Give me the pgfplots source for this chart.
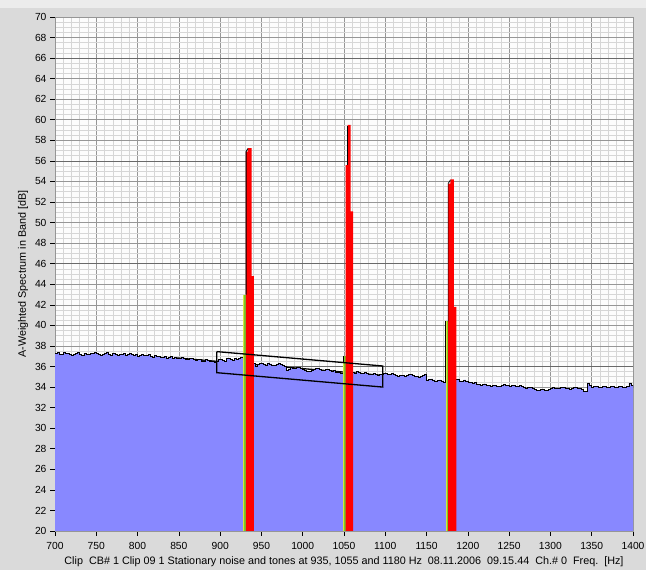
\documentclass[border=0pt]{standalone}
\usepackage{pgfplots}
\pgfplotsset{compat=1.18}
\usepackage{fontspec}
\setmainfont{Liberation Sans}
\definecolor{bggray}{RGB}{218,218,218}
\definecolor{toplight}{RGB}{236,236,236}
\definecolor{plotbg}{RGB}{252,252,252}
\definecolor{mingray}{RGB}{214,214,214}
\definecolor{majgray}{RGB}{150,150,150}
\definecolor{dkgray}{RGB}{105,105,105}
\definecolor{noiseblue}{RGB}{136,136,255}
\definecolor{tonered}{RGB}{255,0,0}
\definecolor{tonegreen}{RGB}{120,200,40}
\definecolor{toneyellow}{RGB}{215,230,60}
\pgfplotstableread{
f L
700 37.30
702.5 37.40
705 37.20
707.5 37.15
710 37.35
712.5 37.30
715 37.25
717.5 37.15
720 37.10
722.5 37.20
725 37.25
727.5 37.35
730 37.20
732.5 37.10
735 37.30
737.5 37.20
740 37.15
742.5 37.30
745 37.25
747.5 37.35
750 37.30
752.5 37.20
755 37.10
757.5 37.20
760 37.25
762.5 37.35
765 37.15
767.5 37.05
770 37.25
772.5 37.20
775 37.05
777.5 37.15
780 37.20
782.5 37.30
785 37.10
787.5 37.20
790 37.25
792.5 37.15
795 37.10
797.5 37.20
800 37.00
802.5 37.10
805 37.15
807.5 37.05
810 37.05
812.5 37.15
815 36.95
817.5 36.85
820 37.10
822.5 37.00
825 37.00
827.5 36.90
830 36.85
832.5 36.95
835 36.80
837.5 36.90
840 36.95
842.5 36.80
845 36.85
847.5 36.75
850 36.75
852.5 36.85
855 36.80
857.5 36.70
860 36.70
862.5 36.80
865 36.75
867.5 36.65
870 36.60
872.5 36.70
875 36.65
877.5 36.55
880 36.55
882.5 36.65
885 36.60
887.5 36.50
890 36.50
892.5 36.45
895 36.55
897.5 36.65
900 36.70
902.5 36.60
905 36.55
907.5 36.80
910 36.75
912.5 36.65
915 36.60
917.5 36.75
920 36.70
922.5 36.80
925 36.85
927.5 37.05
930 36.90
932.5 36.80
935 36.60
937.5 36.40
940 36.30
942.5 36.05
945 36.20
947.5 36.30
950 36.30
952.5 36.20
955 36.15
957.5 36.35
960 36.25
962.5 36.15
965 36.10
967.5 36.20
970 36.30
972.5 36.20
975 36.15
977.5 36.00
980 35.65
982.5 35.75
985 35.90
987.5 35.85
990 35.80
992.5 35.90
995 35.95
997.5 35.80
1000 35.70
1002.5 35.60
1005 35.50
1007.5 35.55
1010 35.65
1012.5 35.75
1015 35.80
1017.5 35.85
1020 35.70
1022.5 35.65
1025 35.60
1027.5 35.70
1030 35.75
1032.5 35.65
1035 35.55
1037.5 35.60
1040 35.45
1042.5 35.40
1045 35.35
1047.5 35.30
1050 35.40
1052.5 35.45
1055 35.45
1057.5 35.35
1060 35.40
1062.5 35.35
1065 35.50
1067.5 35.40
1070 35.30
1072.5 35.35
1075 35.45
1077.5 35.30
1080 35.20
1082.5 35.25
1085 35.35
1087.5 35.20
1090 35.10
1092.5 35.20
1095 35.25
1097.5 35.35
1100 35.30
1102.5 35.25
1105 35.20
1107.5 35.30
1110 35.25
1112.5 35.15
1115 35.05
1117.5 35.10
1120 35.15
1122.5 35.05
1125 35.10
1127.5 35.20
1130 35.20
1132.5 35.10
1135 35.00
1137.5 35.05
1140 34.95
1142.5 35.05
1145 35.10
1147.5 35.20
1150 34.70
1152.5 34.75
1155 34.80
1157.5 34.70
1160 34.60
1162.5 34.65
1165 34.70
1167.5 34.60
1170 34.50
1172.5 34.55
1175 34.60
1177.5 34.65
1180 34.70
1182.5 34.75
1185 34.75
1187.5 34.80
1190 34.60
1192.5 34.55
1195 34.70
1197.5 34.60
1200 34.50
1202.5 34.45
1205 34.40
1207.5 34.45
1210 34.30
1212.5 34.25
1215 34.20
1217.5 34.25
1220 34.30
1222.5 34.20
1225 34.15
1227.5 34.10
1230 34.20
1232.5 34.15
1235 34.05
1237.5 34.10
1240 34.15
1242.5 34.25
1245 34.20
1247.5 34.15
1250 34.10
1252.5 34.20
1255 34.20
1257.5 34.10
1260 34.05
1262.5 34.15
1265 34.10
1267.5 34.00
1270 33.90
1272.5 34.00
1275 33.95
1277.5 33.85
1280 33.75
1282.5 33.70
1285 33.70
1287.5 33.80
1290 33.75
1292.5 33.65
1295 33.70
1297.5 33.80
1300 33.85
1302.5 33.95
1305 33.90
1307.5 33.85
1310 33.85
1312.5 33.95
1315 33.95
1317.5 33.90
1320 33.90
1322.5 33.80
1325 33.85
1327.5 33.95
1330 33.95
1332.5 33.85
1335 33.90
1337.5 33.80
1340 33.60
1342.5 33.55
1345 34.40
1347.5 34.20
1350 33.95
1352.5 34.05
1355 34.05
1357.5 33.95
1360 34.00
1362.5 34.10
1365 34.10
1367.5 34.00
1370 33.95
1372.5 34.05
1375 34.05
1377.5 33.95
1380 34.00
1382.5 34.10
1385 34.10
1387.5 34.00
1390 33.95
1392.5 34.05
1395 34.40
1397.5 34.20
1400 33.90
}\noise
\begin{document}
\begin{tikzpicture}[x=1pt,y=1pt]
\fill[bggray] (0,0) rectangle (646,570);
\fill[toplight] (0,562) rectangle (646,570);
\useasboundingbox (0,0) rectangle (646,570);
\begin{axis}[
  at={(55pt,39pt)}, anchor=south west,
  scale only axis, width=578pt, height=514pt,
  xmin=700, xmax=1400, ymin=20, ymax=70,
  xtick={700,750,...,1400}, ytick={20,22,...,70},
  minor x tick num=4, minor y tick num=3,
  grid=both,
  major grid style={color=majgray, line width=0.6pt},
  minor grid style={color=mingray, line width=0.6pt},
  extra y ticks={26,36,46,56,66}, extra y tick labels={},
  extra y tick style={major grid style={color=dkgray, line width=0.6pt}},
  tick align=outside, major tick length=5pt, minor tick length=0pt,
  tick pos=left,
  tick style={black, line width=0.6pt},
  axis line style={draw=majgray},
  axis background/.style={fill=plotbg},
  ticklabel style={font=\fontsize{10.3}{12}\selectfont},
  xticklabel style={yshift=-3pt},
  /pgf/number format/assume math mode=true,
  /pgf/number format/1000 sep={},
  xlabel={Clip\ \ CB\# 1 Clip 09 1 Stationary noise and tones at 935, 1055 and 1180 Hz\ \ 08.11.2006\ \ 09.15.44\ \ Ch.\# 0\ \ Freq.\ \ [Hz]},
  ylabel={A-Weighted Spectrum in Band [dB]},
  xlabel style={font=\fontsize{10.8}{12}\selectfont, at={(axis description cs:0.5,0)}, anchor=base, yshift=-34pt},
  ylabel style={font=\fontsize{10.8}{12}\selectfont, at={(axis description cs:0,0.5)}, anchor=base, yshift=29pt},
]
% trend line (behind the noise)
\addplot[black, line width=1.3pt] coordinates {(848,36.83) (1148,34.79)};
% noise floor
\addplot[const plot, fill=noiseblue, draw=none] table[x=f,y=L] {\noise} \closedcycle;
\addplot[const plot, black, line width=0.7pt] table[x=f,y=L] {\noise};
% tone 1 (935 Hz)
\addplot[fill=toneyellow, draw=none] coordinates {(927.6,20) (927.6,43.0) (929.4,43.0) (929.4,20)} -- cycle;
\addplot[fill=tonegreen, draw=none] coordinates {(929.4,20) (929.4,43.0) (931.2,43.0) (931.2,20)} -- cycle;
\addplot[fill=tonered, draw=none] coordinates {(931.2,20) (931.2,56.9) (933.6,56.9) (933.6,57.25) (938.1,57.25) (938.1,44.8) (940.9,44.8) (940.9,20)} -- cycle;
\addplot[black, line width=0.9pt] coordinates {(931.4,43.0) (931.4,56.9) (933.6,57.2)};
% tone 2 (1055 Hz)
\addplot[fill=toneyellow, draw=none] coordinates {(1049.0,20) (1049.0,37.0) (1050.5,37.0) (1050.5,20)} -- cycle;
\addplot[fill=tonegreen, draw=none] coordinates {(1050.5,20) (1050.5,37.0) (1051.9,37.0) (1051.9,20)} -- cycle;
\addplot[black, line width=0.9pt] coordinates {(1049.1,36.3) (1049.1,37.0)};
\addplot[fill=tonered, draw=none] coordinates {(1051.9,20) (1051.9,55.6) (1054.3,55.6) (1054.3,59.5) (1057.9,59.5) (1057.9,51.1) (1061.1,51.1) (1061.1,20)} -- cycle;
\addplot[black, line width=0.9pt] coordinates {(1054.4,55.6) (1054.4,59.4)};
% tone 3 (1180 Hz)
\addplot[fill=toneyellow, draw=none] coordinates {(1173.0,20) (1173.0,40.4) (1174.6,40.4) (1174.6,20)} -- cycle;
\addplot[fill=tonegreen, draw=none] coordinates {(1174.6,20) (1174.6,40.4) (1176.0,40.4) (1176.0,20)} -- cycle;
\addplot[black, line width=0.9pt] coordinates {(1173.1,34.6) (1173.1,40.4)};
\addplot[fill=tonered, draw=none] coordinates {(1176.0,20) (1176.0,53.8) (1178.9,53.8) (1178.9,54.2) (1183.0,54.2) (1183.0,41.8) (1186.0,41.8) (1186.0,20)} -- cycle;
\addplot[black, line width=0.7pt] coordinates {(1176.1,40.4) (1176.1,53.8) (1178.9,54.15)};
% tilted box
\addplot[black, line width=1.3pt] coordinates {(896,37.45) (1097,36.05) (1097,34.0) (896,35.4) (896,37.45)};
\end{axis}
\end{tikzpicture}
\end{document}
